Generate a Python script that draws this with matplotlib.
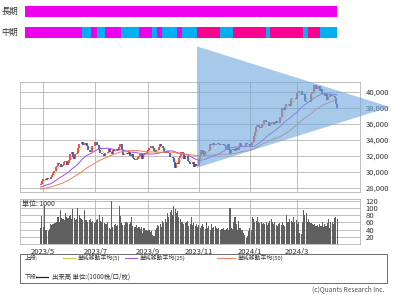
import numpy as np
import pandas as pd
import matplotlib
matplotlib.use('Agg')
import matplotlib.pyplot as plt
from matplotlib.patches import Polygon, Rectangle
from matplotlib.lines import Line2D

plt.rcParams['font.family'] = ['Noto Sans CJK JP', 'DejaVu Sans']

W, H = 399, 295

# daily closes before the window (only feed the moving averages)
close_pre = [27606, 27584, 27670, 27427, 27602, 27501, 27696, 27513, 27531, 27473,
             27104, 27453, 27423, 27445, 27516, 27498, 27927, 28237, 28309, 28444,
             28623, 28143, 27832, 27222, 27229, 27010, 27333, 26945, 27466, 27419,
             27385, 27476, 27518, 27883, 27782, 28041, 28188, 28287, 27813, 27472,
             27518, 27633, 27923, 28082, 28157, 28493, 28514, 28658, 28606, 28657,
             28564, 28593, 28620, 28416]

# daily closes shown, 2023/4/27 .. 2024/4/17
close = [28457, 28856,
         29123, 29157, 28949, 29242, 29122, 29126, 29388, 29626, 29842, 30093,
         30573, 30808, 31086, 30957, 30682, 30801, 30916, 31233, 31328, 30887,
         31148, 31524, 32217, 32506, 31913, 31641, 32265, 32434, 33018, 33502, 33485,
         33706, 33370, 33389, 33575, 33265, 32781, 32698, 32538, 33193, 33234, 33189,
         33753, 33422, 33338, 32773, 32388, 32189, 32203, 31943, 32419, 32391,
         32493, 32896, 32490, 32304, 32700, 32682, 32668, 32891, 32759, 33172,
         33476, 32707, 32159, 32192, 32254, 32377, 32204, 32473, 32059, 32238, 31766,
         31626, 31450, 31565, 31856, 32010, 32287, 31624, 32169, 32227, 32333, 32619,
         32710, 32939, 33036, 33241, 32991, 32606, 32467, 32776, 32706, 33168,
         33533, 33242, 33023, 32571, 32402, 32678, 32315, 32371, 31872, 31857,
         31759, 31237, 30526, 31075, 30994, 31746, 32040, 32494, 32315, 31659, 32040,
         32042, 31430, 31259, 31019, 31062, 31269, 30601, 30991, 30696, 30858,
         31601, 31949, 32708, 32271, 32166, 32646, 32568, 32585, 32695, 33519,
         33424, 33585, 33388, 33354, 33451, 33625, 33447, 33408, 33321, 33486,
         33431, 33231, 32775, 33445, 32858, 32307, 32791, 32843, 32926, 32686, 32970,
         32758, 33219, 33675, 33140, 33169, 33254, 33305, 33681, 33539, 33464,
         33288, 33377, 33763, 34441, 35049, 35577, 35901, 35619, 35477, 35466,
         35963, 36546, 36517, 36226, 36236, 35751, 36026, 36066, 36286,
         36011, 36158, 36354, 36160, 36119, 36863, 36897, 37963, 37703, 38157,
         38487, 38470, 38363, 38262, 39098, 39233, 39239, 39208, 39166,
         39910, 40109, 40097, 40090, 39598, 39688, 38820, 38797, 38695, 38807,
         38707, 39740, 40003, 40815, 40888, 40414, 40398, 40762, 40168, 40369,
         39803, 39838, 39451, 39773, 38992, 39347, 39773, 39581, 39442, 39523,
         39233, 38471, 37961]

# volume, unit 1000
volume = [43, 78, 48, 106, 40, 38, 36, 42, 55, 54,
          55, 58, 57, 60, 75, 62, 95, 72, 70, 68,
          85, 75, 72, 78, 82, 70, 98, 72, 66, 70,
          100, 80, 72, 70, 66, 95, 68, 66, 62, 68,
          70, 60, 64, 58, 62, 68, 70, 80, 64, 60,
          75, 58, 56, 55, 60, 45, 42, 120, 48, 52,
          55, 50, 52, 105, 78, 58, 54, 52, 60, 62,
          58, 55, 60, 76, 50, 46, 48, 52, 45, 47,
          42, 48, 30, 44, 40, 38, 35, 40, 32, 36,
          25, 22, 40, 45, 52, 50, 55, 48, 65, 58,
          70, 62, 85, 75, 90, 95, 80, 105, 98, 85,
          92, 75, 70, 60, 62, 55, 58, 60, 65, 50,
          56, 75, 52, 58, 50, 55, 48, 52, 45, 50,
          55, 48, 42, 60, 45, 50, 40, 55, 45, 48,
          50, 45, 42, 44, 40, 42, 41, 43, 40, 42,
          44, 40, 100, 45, 42, 60, 75, 55, 40, 65,
          45, 38, 40, 30, 25, 15, 22, 35, 45, 40,
          75, 70, 60, 65, 75, 62, 58, 60, 55, 58,
          56, 60, 54, 58, 65, 70, 62, 55, 60, 52,
          50, 56, 58, 52, 60, 54, 50, 80, 62, 60,
          70, 65, 60, 75, 62, 68, 55, 60, 30, 28,
          62, 95, 80, 85, 60, 70, 62, 58, 55, 52,
          55, 50, 52, 48, 55, 50, 60, 48, 55, 50,
          58, 70, 45, 62, 60, 55, 72, 75, 70]

month_names = ['2023/4', '2023/5', '2023/6', '2023/7', '2023/8', '2023/9', '2023/10',
               '2023/11', '2023/12', '2024/1', '2024/2', '2024/3', '2024/4']
month_days = [2, 20, 22, 20, 22, 20, 21, 20, 21, 19, 19, 20, 13]
tick_labels = ['2023/5', '2023/7', '2023/9', '2023/11', '2024/1', '2024/3']

# triangle pattern (trading-day index, price)
tri_x = [125.5, 125.5, 280.3]
tri_y = [45700, 30530, 38130]

# trend bars: state and relative length
long_states = ['up']
long_spans = [312]
mid_states = ['up', 'flat', 'up', 'flat', 'up', 'flat', 'up', 'flat', 'up', 'flat',
              'up', 'flat', 'strong', 'flat', 'strong', 'flat', 'strong', 'flat',
              'strong', 'flat']
mid_spans = [57, 9, 6, 8, 16, 18, 13, 5, 5, 15, 5, 15, 23, 13, 33, 4, 33, 5, 12, 17]
state_colors = {'up': '#ee00ee', 'flat': '#00b0f0', 'strong': '#ff0090'}

GRID = '#b4b4b4'
TXT = '#333333'
XLIM = (-16.5, 256.3)


def px_rect(left, top, right, bottom):
    return [left / W, 1 - bottom / H, (right - left) / W, (bottom - top) / H]


def fx(px):
    return px / W


def fy(py):
    return 1 - py / H


fig = plt.figure(figsize=(W / 100, H / 100), dpi=100)

c = np.array(close, dtype=float)
o = np.r_[close_pre[-1], c[:-1]]
x = np.arange(len(c))
closes_all = pd.Series(close_pre + close, dtype=float)
ma = {n: closes_all.rolling(n).mean().to_numpy()[len(close_pre):] for n in (5, 25, 50)}

starts = np.cumsum([0] + month_days[:-1])
tick_pos = [starts[i] for i, m in enumerate(month_names) if m in tick_labels]

# price panel
ax = fig.add_axes(px_rect(20, 82, 360, 192))
ax.set_xlim(XLIM)
ax.set_ylim(27500, 41250)
ax.set_yticks(range(28000, 40001, 2000))
ax.set_yticklabels([f'{v:,}' for v in range(28000, 40001, 2000)])
ax.yaxis.tick_right()
ax.set_xticks(tick_pos)
ax.set_xticklabels([])
ax.tick_params(length=0, labelsize=5.5, pad=4, colors=TXT)
ax.grid(color=GRID, lw=0.6)
ax.set_axisbelow(True)
for s in ax.spines.values():
    s.set_color(GRID)
    s.set_linewidth(0.6)

up = c >= o
ax.plot(x, ma[5], color='#c0d448', lw=0.5, zorder=2)
ax.vlines(x[up], o[up], c[up], color='#e8202a', lw=1.1, zorder=3)
ax.vlines(x[~up], o[~up], c[~up], color='#1f3fa8', lw=1.1, zorder=3)
ax.plot(x, ma[25], color='#a050e0', lw=0.7, zorder=4)
ax.plot(x, ma[50], color='#ee7f5a', lw=0.7, zorder=4)

tri = Polygon(list(zip(tri_x, tri_y)), closed=True, fc='#6fa8dc', ec='none',
              alpha=0.6, clip_on=False, zorder=5)
ax.add_patch(tri)

# volume panel
axv = fig.add_axes(px_rect(20, 199, 360, 243.8))
axv.bar(x, volume, width=0.85, color='#5f5f5f', zorder=2)
axv.set_xlim(XLIM)
axv.set_ylim(0, 125.5)
axv.set_yticks(range(20, 121, 20))
axv.yaxis.tick_right()
axv.set_xticks(tick_pos)
axv.set_xticklabels(tick_labels)
axv.tick_params(length=0, labelsize=5.5, pad=3, colors=TXT)
axv.tick_params(axis='y', pad=4)
axv.grid(color=GRID, lw=0.6)
axv.set_axisbelow(True)
for s in axv.spines.values():
    s.set_color(GRID)
    s.set_linewidth(0.6)
axv.text(0.006, 0.985, '単位: 1000', transform=axv.transAxes, ha='left', va='top',
         fontsize=5, color=TXT, zorder=4)

# trend bars
for top, bottom, states, spans, label in [(6, 17, long_states, long_spans, '長期'),
                                          (27, 38, mid_states, mid_spans, '中期')]:
    axb = fig.add_axes(px_rect(25, top, 337, bottom))
    left = 0
    for st, sp in zip(states, spans):
        axb.barh(0, sp, left=left, height=1, color=state_colors[st])
        left += sp
    axb.set_xlim(0, left)
    axb.set_ylim(-0.5, 0.5)
    axb.axis('off')
    fig.text(fx(1.5), fy((top + bottom) / 2), label, ha='left', va='center',
             fontsize=6, color=TXT)

# legend box
fig.patches.append(Rectangle((fx(20), fy(283)), fx(387) - fx(20), fy(254) - fy(283),
                             transform=fig.transFigure, fc='none', ec='#555555', lw=0.6))
leg_y1, leg_y2 = 258, 277
LEG_FS = 4.2
fig.text(fx(25), fy(leg_y1), '上段:', fontsize=LEG_FS, va='center', color=TXT)
for x0, x1, col, lab in [(63, 75, '#b8d040', '単純移動平均(5)'),
                         (125, 137, '#a050e0', '単純移動平均(25)'),
                         (217, 235, '#ee7f5a', '単純移動平均(50)')]:
    fig.lines.append(Line2D([fx(x0), fx(x1)], [fy(leg_y1)] * 2, color=col, lw=0.7,
                            transform=fig.transFigure))
    fig.text(fx(x1 + 3), fy(leg_y1), lab, fontsize=LEG_FS, va='center', color=TXT)
fig.text(fx(25), fy(leg_y2), '下段:', fontsize=LEG_FS, va='center', color=TXT)
fig.lines.append(Line2D([fx(36), fx(48)], [fy(leg_y2)] * 2, color='#222222', lw=0.9,
                        transform=fig.transFigure))
fig.text(fx(52), fy(leg_y2), '出来高 単位:(1000株/口/枚)', fontsize=4.6, va='center',
         color=TXT)
fig.text(fx(384), fy(289), '(c)Quants Research Inc.', ha='right', va='center',
         fontsize=4.8, color='#555555')

fig.savefig('out.png', dpi=100)
